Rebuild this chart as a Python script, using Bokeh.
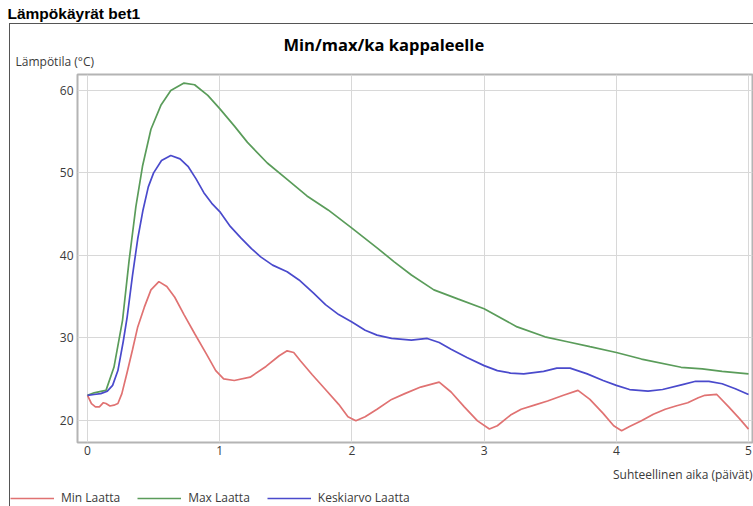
from bokeh.plotting import figure
from bokeh.models import Range1d, Legend, LegendItem, Title
from bokeh.embed import file_html
from bokeh.resources import INLINE

# ---- data ----
max_x = [0, 0.05, 0.11, 0.14, 0.20, 0.265, 0.315, 0.366, 0.416, 0.48, 0.555, 0.63, 0.73, 0.81,
         0.91, 1.0, 1.11, 1.21, 1.36, 1.51, 1.66, 1.82, 2.0, 2.19, 2.32, 2.45, 2.62, 2.80, 3.0,
         3.25, 3.46, 3.63, 3.80, 4.0, 4.19, 4.49, 4.65, 4.80, 5.0]
max_y = [23.0, 23.3, 23.5, 23.6, 26.4, 32.1, 39.4, 45.9, 50.8, 55.3, 58.2, 60.0, 60.9, 60.7,
         59.4, 57.8, 55.7, 53.7, 51.2, 49.2, 47.2, 45.5, 43.3, 40.9, 39.2, 37.6, 35.8, 34.7, 33.5,
         31.3, 30.1, 29.5, 28.9, 28.2, 27.4, 26.4, 26.2, 25.9, 25.6]

avg_x = [0, 0.05, 0.10, 0.15, 0.19, 0.23, 0.27, 0.30, 0.34, 0.38, 0.42, 0.46, 0.50, 0.56, 0.63,
         0.70, 0.76, 0.82, 0.88, 0.94, 1.0, 1.08, 1.16, 1.24, 1.31, 1.40, 1.51, 1.60, 1.71, 1.80,
         1.90, 2.0, 2.10, 2.19, 2.30, 2.45, 2.57, 2.66, 2.75, 2.87, 3.0, 3.10, 3.20, 3.30, 3.45,
         3.55, 3.65, 3.78, 3.90, 4.0, 4.10, 4.24, 4.35, 4.50, 4.60, 4.70, 4.80, 4.90, 5.0]
avg_y = [23.0, 23.1, 23.2, 23.5, 24.2, 26.0, 29.5, 32.5, 37.5, 42.0, 45.5, 48.3, 50.0, 51.5, 52.1,
         51.7, 50.8, 49.3, 47.6, 46.3, 45.3, 43.5, 42.1, 40.8, 39.8, 38.8, 38.0, 37.0, 35.4, 34.0,
         32.8, 31.9, 30.9, 30.3, 29.9, 29.7, 29.9, 29.4, 28.6, 27.6, 26.6, 26.0, 25.7, 25.6, 25.9,
         26.3, 26.3, 25.6, 24.8, 24.2, 23.7, 23.5, 23.7, 24.3, 24.7, 24.7, 24.4, 23.8, 23.1]

min_x = [0, 0.03, 0.06, 0.09, 0.12, 0.14, 0.17, 0.20, 0.23, 0.26, 0.30, 0.34, 0.38, 0.43, 0.48,
         0.54, 0.60, 0.66, 0.73, 0.81, 0.90, 0.97, 1.03, 1.11, 1.23, 1.35, 1.45, 1.51, 1.56, 1.61,
         1.70, 1.80, 1.90, 1.97, 2.03, 2.10, 2.19, 2.30, 2.40, 2.52, 2.66, 2.75, 2.85, 2.95, 3.04,
         3.10, 3.20, 3.28, 3.38, 3.48, 3.60, 3.71, 3.80, 3.90, 3.98, 4.04, 4.10, 4.19, 4.28, 4.37,
         4.45, 4.54, 4.62, 4.67, 4.76, 4.85, 4.93, 5.0]
min_y = [23.0, 22.0, 21.6, 21.6, 22.1, 22.0, 21.7, 21.8, 22.0, 23.2, 25.8, 28.5, 31.3, 33.7, 35.8,
         36.8, 36.2, 34.9, 32.8, 30.5, 28.0, 26.0, 25.0, 24.8, 25.2, 26.5, 27.8, 28.4, 28.2, 27.2,
         25.5, 23.7, 21.9, 20.4, 19.9, 20.4, 21.3, 22.5, 23.2, 24.0, 24.6, 23.4, 21.6, 19.9, 18.9,
         19.3, 20.6, 21.3, 21.8, 22.3, 23.0, 23.6, 22.5, 20.8, 19.3, 18.7, 19.2, 19.9, 20.7, 21.3,
         21.7, 22.1, 22.7, 23.0, 23.1, 21.6, 20.2, 18.9]

x_ticks = [0, 1, 2, 3, 4, 5]
y_ticks = [20, 30, 40, 50, 60]

series_names = ["Min Laatta", "Max Laatta", "Keskiarvo Laatta"]
series_x = [min_x, max_x, avg_x]
series_y = [min_y, max_y, avg_y]
series_colors = ["#e07272", "#5a9c5a", "#4a4acc"]

header_text = "Lämpökäyrät bet1"
title_text = "Min/max/ka kappaleelle"
y_title = "Lämpötila (°C)"
x_title = "Suhteellinen aika (päivät)"

FONT = "Open Sans"
TXT = "#3a3a3a"
BOX = "#555555"


def strip(height):
    f = figure(width=753, height=height, output_backend="svg", toolbar_location=None,
               title=None, x_axis_type=None, y_axis_type=None,
               x_range=Range1d(0, 1), y_range=Range1d(0, 1),
               min_border=0, min_border_left=0, min_border_right=0,
               min_border_top=0, min_border_bottom=0)
    f.outline_line_color = None
    f.border_fill_alpha = 0
    f.background_fill_alpha = 0
    f.grid.visible = False
    return f


def left_edge_styles(top_px, with_top_line=False):
    if with_top_line:
        return {
            "background-image": f"linear-gradient({BOX}, {BOX}), linear-gradient({BOX}, {BOX})",
            "background-size": "100% 1px, 1px 100%",
            "background-position": f"9px {top_px}px, 9px {top_px}px",
            "background-repeat": "no-repeat",
        }
    return {
        "background-image": f"linear-gradient({BOX}, {BOX})",
        "background-size": "1px 100%",
        "background-position": f"9px {top_px}px",
        "background-repeat": "no-repeat",
    }


# ---------------- header strip ----------------
h = strip(30)
h.styles = left_edge_styles(23, with_top_line=True)
h.add_layout(Title(text=header_text, align="left", offset=7, standoff=4,
                   text_font="Liberation Sans", text_font_size="15.5px", text_font_style="bold",
                   text_color="black"), "above")

# ---------------- main chart ----------------
p = figure(width=753, height=460, output_backend="svg", toolbar_location=None, title=None,
           x_range=Range1d(-0.0756, 5.030), y_range=Range1d(17.27, 61.94),
           min_border_left=77, min_border_right=1, min_border_top=44, min_border_bottom=48)
p.background_fill_color = "white"
p.border_fill_alpha = 0
p.outline_line_color = "#b4b4b4"
p.outline_line_width = 2
p.styles = left_edge_styles(0)

p.xaxis.ticker = x_ticks
p.yaxis.ticker = y_ticks
for ax in p.axis:
    ax.axis_line_color = None
    ax.major_tick_line_color = None
    ax.minor_tick_line_color = None
    ax.major_tick_out = 0
    ax.major_tick_in = 0
    ax.minor_tick_out = 0
    ax.minor_tick_in = 0
    ax.major_label_text_font = FONT
    ax.major_label_text_font_size = "12px"
    ax.major_label_text_color = TXT
p.xaxis.major_label_standoff = 3
p.yaxis.major_label_standoff = 4
p.grid.grid_line_color = "#d8d8d8"
p.grid.grid_line_width = 1

for xs, ys, col in zip(series_x, series_y, series_colors):
    p.line(xs, ys, line_color=col, line_width=1.7)

# texts above the plot area (first added sits nearest the plot)
p.add_layout(Title(text=y_title, align="left", offset=-62, standoff=9,
                   text_font=FONT, text_font_size="12px", text_font_style="normal",
                   text_color=TXT), "above")
p.add_layout(Title(text=title_text, align="left", offset=206, standoff=-19,
                   text_font=FONT, text_font_size="16.5px", text_font_style="bold",
                   text_color="black"), "above")
# text below the plot area
p.add_layout(Title(text=x_title, align="right", offset=0, standoff=12,
                   text_font=FONT, text_font_size="12px", text_font_style="normal",
                   text_color=TXT), "below")

# ---------------- legend strip ----------------
q = strip(16)
q.styles = left_edge_styles(0)
items = []
for name, xs, ys, col in zip(series_names, series_x, series_y, series_colors):
    # same series; outside this strip's ranges, so only its legend swatch shows
    r = q.line(xs, ys, line_color=col, line_width=1.7)
    items.append(LegendItem(label=name, renderers=[r]))
legend = Legend(items=items, orientation="horizontal", location=(10, 0),
                glyph_width=44, glyph_height=16, label_height=16, label_standoff=7,
                spacing=17, padding=0, margin=0, border_line_alpha=0,
                background_fill_alpha=0, label_text_font=FONT, label_text_font_size="12px",
                label_text_color=TXT)
q.add_layout(legend)

open("out.html", "w").write(file_html([h, p, q], INLINE))
